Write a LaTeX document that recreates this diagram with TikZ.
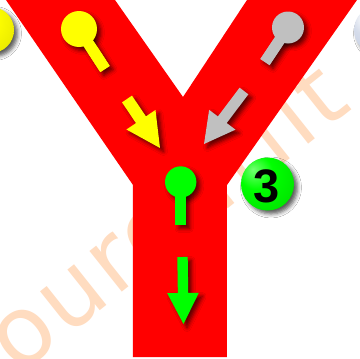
\documentclass[tikz,border=0pt]{standalone}
\usepackage{fontspec}
\setmainfont{Liberation Sans}
\newfontfamily\wmfont[LetterSpace=3]{DejaVu Sans}
\usetikzlibrary{calc,shadows.blur}
\definecolor{yred}{RGB}{255,0,0}
\definecolor{pinyellow}{RGB}{255,255,0}
\definecolor{pingray}{RGB}{192,192,192}
\definecolor{pingreen}{RGB}{0,255,0}
\definecolor{wmcol}{RGB}{255,220,192}
\definecolor{ballblue}{RGB}{196,206,226}
\pgfdeclareradialshading{greenball}{\pgfpoint{-14bp}{14bp}}{color(0bp)=(pingreen!55!white); color(16bp)=(pingreen); color(36bp)=(pingreen!90!black); color(52bp)=(pingreen!58!black); color(70bp)=(pingreen!40!black)}
\pgfdeclareradialshading{yellowball}{\pgfpoint{-14bp}{14bp}}{color(0bp)=(pinyellow!40!white); color(16bp)=(pinyellow); color(36bp)=(pinyellow!92!black); color(52bp)=(pinyellow!65!black); color(70bp)=(pinyellow!50!black)}
\pgfdeclareradialshading{blueball}{\pgfpoint{-14bp}{14bp}}{color(0bp)=(white); color(16bp)=(ballblue!70!white); color(36bp)=(ballblue); color(52bp)=(ballblue!70!black); color(70bp)=(ballblue!55!black)}
\tikzset{
  sh/.style={blur shadow={shadow xshift=3.5pt, shadow yshift=-3.5pt, shadow blur radius=4pt, shadow opacity=65}},
  wmtext/.style={text=wmcol, font=\wmfont\fontsize{95}{95}\selectfont, inner sep=0pt},
  numtext/.style={text=black, font=\bfseries\fontsize{47}{47}\selectfont, inner sep=0pt},
}
% stick of a pin: from #1 to #2, half width #3
\newcommand{\stickpath}[3]{($(#1)!#3!90:(#2)$) -- ($(#2)!#3!-90:(#1)$) -- ($(#2)!#3!90:(#1)$) -- ($(#1)!#3!-90:(#2)$) -- cycle}
% arrow: start #1, head base #2, tip #3, shaft half width #4, head half width #5
\newcommand{\arrowpath}[5]{($(#1)!#4!90:(#3)$) -- ($(#2)!#4!90:(#3)$) -- ($(#2)!#5!90:(#3)$) -- (#3) -- ($(#2)!#5!-90:(#3)$) -- ($(#2)!#4!-90:(#3)$) -- ($(#1)!#4!-90:(#3)$) -- cycle}
\begin{document}
\begin{tikzpicture}[x=1pt,y=-1pt]
\useasboundingbox (0,0) rectangle (360,359);
\clip (0,0) rectangle (360,359);
\fill[white] (0,0) rectangle (360,359);
% watermark
\node[wmtext, rotate=38.5, anchor=base west] (wm) at (-27.5,412) {youroutfit};
% the Y
\fill[yred] (6,0) -- (115,0) -- (183,97) -- (247,0) -- (357,0) -- (227,185) -- (227,357) -- (133,357) -- (133,185) -- cycle;
% side balls
\shade[shading=yellowball, sh] (-9,30) circle (23);
\shade[shading=blueball, sh] (378,30) circle (24);
% coordinates
\coordinate (yc) at (79,29);   \coordinate (ye) at (105,69);
\coordinate (ys) at (127,99);  \coordinate (yt) at (160,148);
\coordinate (gc) at (288,27.5); \coordinate (ge) at (265,62);
\coordinate (gs) at (244,91);  \coordinate (gt) at (204,144);
\coordinate (nc) at (180.7,182); \coordinate (ne) at (180.7,225);
\coordinate (ns) at (182.5,257); \coordinate (nt) at (183.5,324);
\coordinate (yb) at ($(ys)!25pt!(yt)$);
\coordinate (gb) at ($(gs)!36pt!(gt)$);
\coordinate (nb) at ($(ns)!36pt!(nt)$);
% yellow pin and arrow
\fill[pinyellow, sh] \stickpath{yc}{ye}{5.6pt};
\fill[pinyellow, sh] (yc) circle (18);
\fill[pinyellow] \stickpath{yc}{ye}{5.6pt};
\fill[pinyellow, sh] \arrowpath{ys}{yb}{yt}{6pt}{17.5pt};
% gray pin and arrow
\fill[pingray, sh] \stickpath{gc}{ge}{5.5pt};
\fill[pingray, sh] (gc) circle (16);
\fill[pingray] \stickpath{gc}{ge}{5.5pt};
\fill[pingray, sh] \arrowpath{gs}{gb}{gt}{5.5pt}{16.5pt};
% green pin and arrow
\fill[pingreen, sh] \stickpath{nc}{ne}{5.2pt};
\fill[pingreen, sh] (nc) circle (15.7);
\fill[pingreen] \stickpath{nc}{ne}{5.2pt};
\fill[pingreen, sh] \arrowpath{ns}{nb}{nt}{5.2pt}{15.8pt};
% numbered ball
\shade[shading=greenball, sh] (267.5,184) circle (26.5);
\node[numtext] (num) at (267,186) {3};
\end{tikzpicture}
\end{document}
